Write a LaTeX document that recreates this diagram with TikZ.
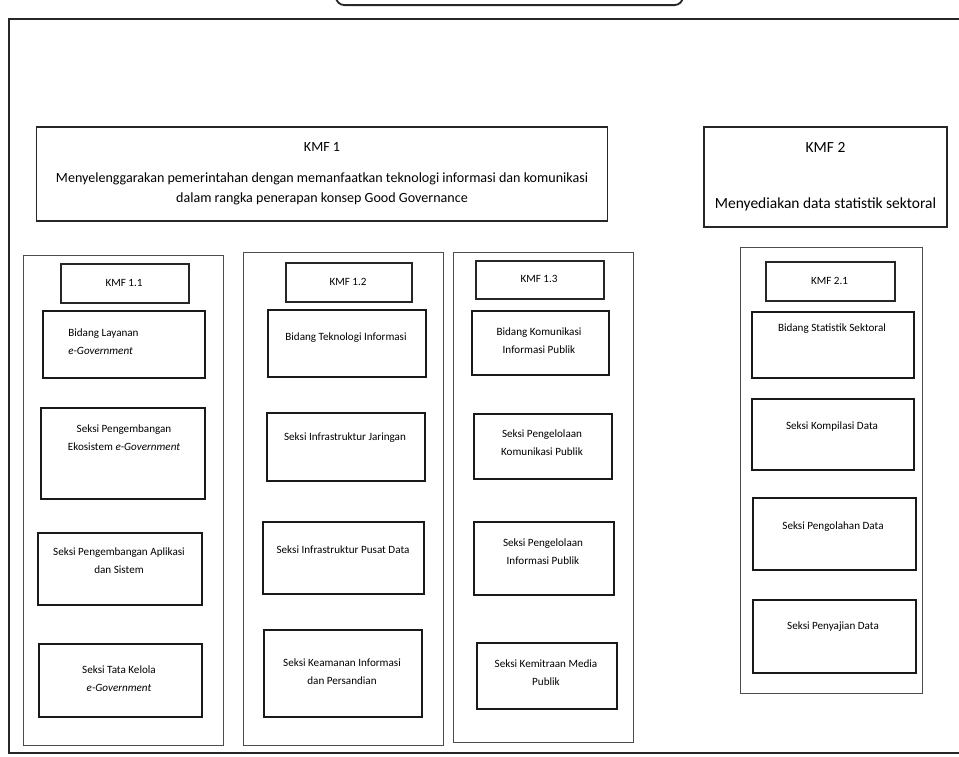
\documentclass[tikz,border=0pt]{standalone}
\usepackage{fontspec}
\setmainfont{Carlito}
\usepackage{tikz}
\usetikzlibrary{positioning}

\begin{document}
\begin{tikzpicture}[
  x=0.025cm, y=-0.025cm,
  every node/.style={font=\fontsize{7.9}{12.8}\selectfont, align=center, inner sep=0pt},
  box/.style 2 args={minimum width=#1*0.025cm, minimum height=#2*0.025cm},
  frame/.style={draw=black!85, line width=1.5pt, anchor=north west},
  topbox/.style={draw=black!85, line width=1.3pt, rounded corners=6pt, anchor=south west},
  kmf/.style={draw=black!85, line width=1.3pt},
  col/.style={draw=black!70, line width=0.8pt, anchor=north west},
  sub/.style={draw=black!85, line width=1.1pt, anchor=north west},
  unit/.style={draw=black!90, line width=1.4pt, anchor=north west}
]
\useasboundingbox (0,0) rectangle (959,756);
\clip (0,0) rectangle (959,756);

%% page frame and the cut-off title box
\node[frame, box={970}{734}] (page) at (8,18) {};
\node[topbox, box={347}{40}] (title) at (335,6) {};

%% top level functions
\node[kmf, box={571}{94}, font=\fontsize{10}{14.2}\selectfont] (kmf1) at (322,174)
  {KMF 1\\[8pt]Menyelenggarakan pemerintahan dengan memanfaatkan teknologi informasi dan komunikasi\\
   dalam rangka penerapan konsep Good Governance};
\node[kmf, box={243}{100}, font=\fontsize{11}{14}\selectfont] (kmf2) at (825.5,177)
  {KMF 2\\[26pt]Menyediakan data statistik sektoral};

%% KMF 1.1
\node[col, box={200}{490}] (c11) at (23,255) {};
\node[sub, box={128}{39}] (k11) at (60,263) {};
\node (k11t) at (124,282.5) {KMF 1.1};
\node[unit, box={162}{67}] (u11a) at (42,310) {};
\node[anchor=west, align=left] (u11at) at (68,342) {Bidang Layanan\\\textit{e-Government}};
\node[unit, box={164}{91}] (u11b) at (40,407) {};
\node (u11bt) at (124,438) {Seksi Pengembangan\\Ekosistem \textit{e-Government}};
\node[unit, box={164}{72}] (u11c) at (37,532) {};
\node (u11ct) at (119,561) {Seksi Pengembangan Aplikasi\\dan Sistem};
\node[unit, box={163}{73}] (u11d) at (38,643) {};
\node (u11dt) at (119,679) {Seksi Tata Kelola\\\textit{e-Government}};

%% KMF 1.2
\node[col, box={200}{493}] (c12) at (243,252) {};
\node[sub, box={126}{39}] (k12) at (285,262) {};
\node (k12t) at (348,281.5) {KMF 1.2};
\node[unit, box={158}{67}] (u12a) at (267,309) {};
\node (u12at) at (346,338) {Bidang Teknologi Informasi};
\node[unit, box={158}{68}] (u12b) at (266,412) {};
\node (u12bt) at (345,438) {Seksi Infrastruktur Jaringan};
\node[unit, box={161}{72}] (u12c) at (262,521) {};
\node (u12ct) at (343,550) {Seksi Infrastruktur Pusat Data};
\node[unit, box={158}{87}] (u12d) at (263,629) {};
\node (u12dt) at (342,672) {Seksi Keamanan Informasi\\dan Persandian};

%% KMF 1.3
\node[col, box={180}{490}] (c13) at (453,252) {};
\node[sub, box={128}{38}] (k13) at (475,260) {};
\node (k13t) at (539,279) {KMF 1.3};
\node[unit, box={137}{64}] (u13a) at (471,310) {};
\node (u13at) at (539,341) {Bidang Komunikasi\\Informasi Publik};
\node[unit, box={138}{65}] (u13b) at (473,413) {};
\node (u13bt) at (542,443) {Seksi Pengelolaan\\Komunikasi Publik};
\node[unit, box={140}{73}] (u13c) at (473,521) {};
\node (u13ct) at (543,552) {Seksi Pengelolaan\\Informasi Publik};
\node[unit, box={140}{66}] (u13d) at (476,642) {};
\node (u13dt) at (546,673) {Seksi Kemitraan Media\\Publik};

%% KMF 2.1
\node[col, box={182}{446}] (c21) at (740,247) {};
\node[sub, box={129}{39}] (k21) at (765,261) {};
\node (k21t) at (829.5,280.5) {KMF 2.1};
\node[unit, box={162}{66}] (u21a) at (751,311) {};
\node (u21at) at (832,329) {Bidang Statistik Sektoral};
\node[unit, box={162}{71}] (u21b) at (751,398) {};
\node (u21bt) at (832,427) {Seksi Kompilasi Data};
\node[unit, box={163}{72}] (u21c) at (752,497) {};
\node (u21ct) at (833,527) {Seksi Pengolahan Data};
\node[unit, box={163}{73}] (u21d) at (752,599) {};
\node (u21dt) at (833,627) {Seksi Penyajian Data};

\end{tikzpicture}
\end{document}
